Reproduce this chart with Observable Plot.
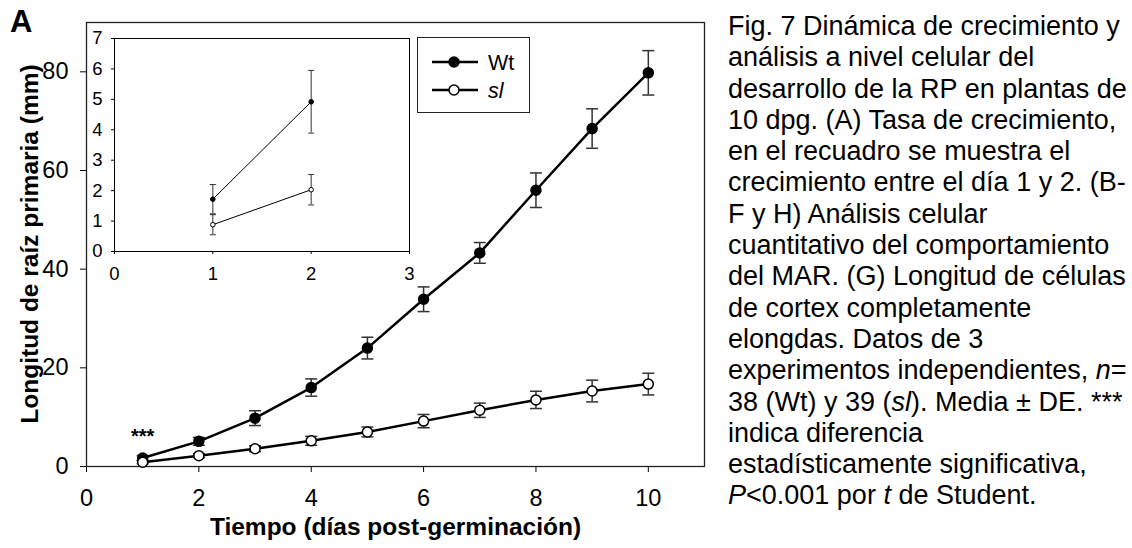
<!DOCTYPE html>
<html><head><meta charset="utf-8">
<script src="https://cdn.jsdelivr.net/npm/d3@7"></script>
<script src="https://cdn.jsdelivr.net/npm/@observablehq/plot@0.6"></script>
<style>
body{margin:0;background:#fff;font-family:"Liberation Sans",Arial,sans-serif;}
#wrap{position:relative;width:1132px;height:548px;overflow:hidden;background:#fff;}
#main{position:absolute;left:0;top:0;}
#inset{position:absolute;left:90px;top:25px;}
#legend{position:absolute;left:417px;top:37px;width:113px;height:76px;border:1px solid #222;background:#fff;box-sizing:border-box;}
#legend svg{position:absolute;left:-1px;top:-1px;}
#panel{position:absolute;left:10px;top:4px;font-weight:bold;font-size:31px;line-height:36px;}
#ytitle{position:absolute;left:-170px;top:229px;width:400px;height:30px;line-height:30px;text-align:center;font-weight:bold;font-size:24.5px;transform:rotate(-90deg);transform-origin:50% 50%;white-space:nowrap;}
#caption{position:absolute;left:728px;top:11px;font-size:27px;line-height:31.3px;white-space:nowrap;color:#000;}
</style></head>
<body><div id="wrap">
<div id="main"></div>
<div id="inset"></div>
<div id="legend"><svg width="113" height="76" font-family="Liberation Sans, Arial, sans-serif">
<line x1="15" x2="61" y1="25" y2="25" stroke="#000" stroke-width="2.5"/>
<circle cx="37" cy="25" r="5" fill="#000" stroke="#000" stroke-width="1.5"/>
<text x="71" y="32.5" font-size="21.5">Wt</text>
<line x1="15" x2="61" y1="53" y2="53" stroke="#000" stroke-width="2.5"/>
<circle cx="37" cy="53" r="5" fill="#fff" stroke="#000" stroke-width="1.5"/>
<text x="71" y="60.5" font-size="21.5" font-style="italic">sl</text>
</svg></div>
<div id="panel">A</div>
<div id="ytitle"></div>
<div id="caption">Fig. 7 Dinámica de crecimiento y<br>análisis a nivel celular del<br>desarrollo de la RP en plantas de<br>10 dpg. (A) Tasa de crecimiento,<br>en el recuadro se muestra el<br>crecimiento entre el día 1 y 2. (B-<br>F y H) Análisis celular<br>cuantitativo del comportamiento<br>del MAR. (G) Longitud de células<br>de cortex completamente<br>elongdas. Datos de 3<br>experimentos independientes, <i>n</i>=<br>38 (Wt) y 39 (<i>sl</i>). Media ± DE. ***<br>indica diferencia<br>estadísticamente significativa,<br><i>P</i>&lt;0.001 por <i>t</i> de Student.</div>
</div>
<script>
// ---- data ----
const days = [1, 2, 3, 4, 5, 6, 7, 8, 9, 10];
const wtMean = [1.72, 5.1, 9.8, 16.0, 24.0, 33.9, 43.3, 56.0, 68.5, 79.8];
const wtSd   = [0.5, 0.8, 1.5, 1.75, 2.2, 2.5, 2.1, 3.5, 4.0, 4.5];
const slMean = [0.88, 2.2, 3.6, 5.2, 7.0, 9.2, 11.4, 13.5, 15.3, 16.7];
const slSd   = [0.33, 0.4, 0.6, 0.9, 1.0, 1.35, 1.45, 1.75, 2.2, 2.2];

const insetDays = [1, 2];
const insetWtMean = [1.72, 4.92];
const insetWtSd   = [0.48, 1.03];
const insetSlMean = [0.88, 2.03];
const insetSlSd   = [0.33, 0.5];

const xTicks = [0, 2, 4, 6, 8, 10];
const yTicks = [0, 20, 40, 60, 80];
const insetXTicks = [0, 1, 2, 3];
const insetYTicks = [0, 1, 2, 3, 4, 5, 6, 7];

const xTitle = "Tiempo (días post-germinación)";
const yTitle = "Longitud de raíz primaria (mm)";
const sigLabel = "***";

document.getElementById("ytitle").textContent = yTitle;

// ---- tables ----
function table(ds, wm, ws, sm, ss) {
  const rows = [];
  ds.forEach((d, i) => {
    rows.push({day: d, genotype: "Wt", mean: wm[i], sd: ws[i]});
    rows.push({day: d, genotype: "sl", mean: sm[i], sd: ss[i]});
  });
  return rows;
}
const rows = table(days, wtMean, wtSd, slMean, slSd);
const insetRows = table(insetDays, insetWtMean, insetWtSd, insetSlMean, insetSlSd);

const cap = {draw(ctx, size) { const r = Math.sqrt(size / Math.PI); ctx.moveTo(-r, 0); ctx.lineTo(r, 0); }};
const font = "Liberation Sans, Arial, sans-serif";
const intFmt = d => String(d);

function errMarks(data, capR, sw, color) {
  return [
    Plot.ruleX(data, {x: "day", y1: d => d.mean - d.sd, y2: d => d.mean + d.sd, stroke: color, strokeWidth: sw}),
    Plot.dot(data, {x: "day", y: d => d.mean + d.sd, r: capR, symbol: cap, stroke: color, strokeWidth: sw, fill: "none"}),
    Plot.dot(data, {x: "day", y: d => d.mean - d.sd, r: capR, symbol: cap, stroke: color, strokeWidth: sw, fill: "none"})
  ];
}

const main = Plot.plot({
  width: 720, height: 548,
  marginLeft: 86, marginRight: 16, marginTop: 22, marginBottom: 82,
  style: {fontFamily: font, fontSize: "23.5px", color: "#000", background: "transparent", overflow: "visible"},
  x: {domain: [0, 11]},
  y: {domain: [0, 90]},
  marks: [
    Plot.axisX({ticks: xTicks, tickFormat: intFmt, tickSize: 6, tickPadding: 17, fontSize: 23.5, label: null, stroke: "#000"}),
    Plot.axisY({ticks: yTicks, tickFormat: intFmt, tickSize: 6, tickPadding: 12, fontSize: 23.5, label: null, stroke: "#000"}),
    Plot.frame({stroke: "#222", strokeWidth: 1.3}),
    ...errMarks(rows, 6, 1.5, "#333"),
    Plot.line(rows, {x: "day", y: "mean", z: "genotype", stroke: "#000", strokeWidth: 2.5}),
    Plot.dot(rows.filter(d => d.genotype === "Wt"), {x: "day", y: "mean", r: 5, fill: "#000", stroke: "#000", strokeWidth: 1.5}),
    Plot.dot(rows.filter(d => d.genotype === "sl"), {x: "day", y: "mean", r: 5, fill: "#fff", stroke: "#000", strokeWidth: 1.5}),
    Plot.text([sigLabel], {x: () => days[0], y: () => wtMean[0] + wtSd[0], text: d => d, lineAnchor: "bottom", dy: -13, fontSize: 20, fontWeight: "bold"}),
    Plot.text([xTitle], {frameAnchor: "bottom", dy: 61, text: d => d, fontSize: 24.5, fontWeight: "bold", lineAnchor: "middle"})
  ]
});
document.getElementById("main").append(main);

const inset = Plot.plot({
  width: 330, height: 250,
  marginLeft: 24, marginRight: 11, marginTop: 13, marginBottom: 24,
  style: {fontFamily: font, fontSize: "18.5px", color: "#000", background: "#fff", overflow: "visible"},
  x: {domain: [0, 3]},
  y: {domain: [0, 7]},
  marks: [
    Plot.axisX({ticks: insetXTicks, tickFormat: intFmt, tickSize: 3, tickPadding: 12, fontSize: 18.5, label: null, stroke: "#000"}),
    Plot.axisY({ticks: insetYTicks, tickFormat: intFmt, tickSize: 3, tickPadding: 9, fontSize: 18.5, label: null, stroke: "#000"}),
    Plot.frame({stroke: "#000", strokeWidth: 1}),
    ...errMarks(insetRows, 3, 1, "#333"),
    Plot.line(insetRows, {x: "day", y: "mean", z: "genotype", stroke: "#000", strokeWidth: 1}),
    Plot.dot(insetRows.filter(d => d.genotype === "Wt"), {x: "day", y: "mean", r: 2.3, fill: "#000", stroke: "#000", strokeWidth: 1}),
    Plot.dot(insetRows.filter(d => d.genotype === "sl"), {x: "day", y: "mean", r: 2.3, fill: "#fff", stroke: "#000", strokeWidth: 1})
  ]
});
document.getElementById("inset").append(inset);
</script>
</body></html>
